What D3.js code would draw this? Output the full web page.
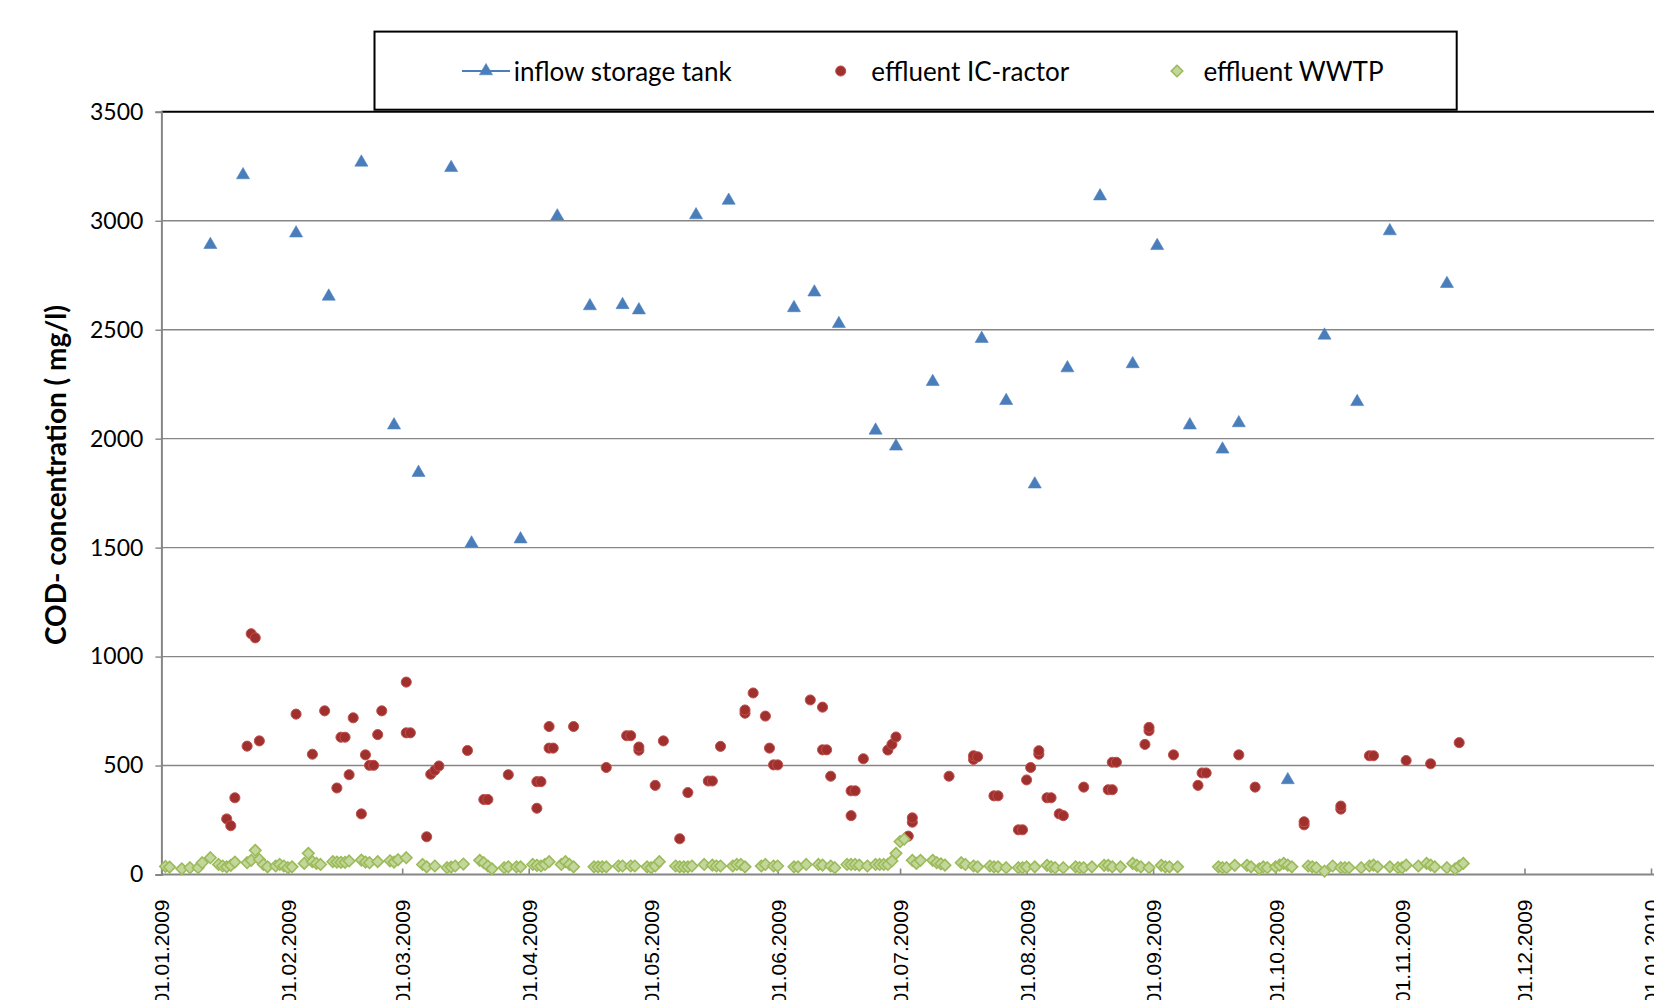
<!DOCTYPE html>
<html>
<head>
<meta charset="utf-8">
<script src="https://cdn.jsdelivr.net/npm/d3@7"></script>
<style>
  html, body { margin: 0; padding: 0; background: #fff; }
  svg { display: block; }
</style>
</head>
<body>
<svg id="chart" width="1654" height="1000"></svg>
<script>
// ---------------- DATA ----------------
const seriesNames = ["inflow storage tank", "effluent IC-ractor", "effluent WWTP"];

const inflowDates = ["2009-01-13","2009-01-21","2009-02-03","2009-02-11","2009-02-19","2009-02-27","2009-03-05","2009-03-13","2009-03-18","2009-03-30",
  "2009-04-08","2009-04-16","2009-04-24","2009-04-28","2009-05-12","2009-05-20","2009-06-05","2009-06-10","2009-06-16","2009-06-25",
  "2009-06-30","2009-07-09","2009-07-21","2009-07-27","2009-08-03","2009-08-11","2009-08-19","2009-08-27","2009-09-02","2009-09-10",
  "2009-09-18","2009-09-22","2009-10-04","2009-10-13","2009-10-21","2009-10-29","2009-11-12"];
const inflowValues = [2890,3210,2943,2653,3268,2062,1844,3243,1520,1539,
  3021,2609,2614,2590,3026,3093,2600,2672,2527,2038,
  1965,2261,2459,2174,1791,2324,3113,2343,2885,2062,
  1951,2072,434,2474,2169,2953,2711];

const icDates = ["2009-01-17","2009-01-18","2009-01-19","2009-01-22","2009-01-23","2009-01-24","2009-01-25","2009-02-03","2009-02-07","2009-02-10",
  "2009-02-13","2009-02-14","2009-02-15","2009-02-16","2009-02-17","2009-02-19","2009-02-20","2009-02-21","2009-02-22","2009-02-23",
  "2009-02-24","2009-03-02","2009-03-02","2009-03-03","2009-03-07","2009-03-08","2009-03-09","2009-03-10","2009-03-17","2009-03-21",
  "2009-03-22","2009-03-27","2009-04-03","2009-04-03","2009-04-04","2009-04-06","2009-04-06","2009-04-07","2009-04-12","2009-04-20",
  "2009-04-25","2009-04-26","2009-04-28","2009-04-28","2009-05-02","2009-05-04","2009-05-08","2009-05-10","2009-05-15","2009-05-16",
  "2009-05-18","2009-05-24","2009-05-24","2009-05-26","2009-05-29","2009-05-30","2009-05-31","2009-06-01","2009-06-09","2009-06-12",
  "2009-06-12","2009-06-13","2009-06-14","2009-06-19","2009-06-19","2009-06-20","2009-06-22","2009-06-28","2009-06-29","2009-06-30",
  "2009-07-03","2009-07-04","2009-07-04","2009-07-13","2009-07-19","2009-07-19","2009-07-20","2009-07-24","2009-07-25","2009-07-30",
  "2009-07-31","2009-08-01","2009-08-02","2009-08-04","2009-08-04","2009-08-06","2009-08-07","2009-08-09","2009-08-10","2009-08-15",
  "2009-08-21","2009-08-22","2009-08-22","2009-08-23","2009-08-30","2009-08-31","2009-08-31","2009-09-06","2009-09-12","2009-09-13",
  "2009-09-14","2009-09-22","2009-09-26","2009-10-08","2009-10-08","2009-10-17","2009-10-17","2009-10-24","2009-10-25","2009-11-02",
  "2009-11-08","2009-11-15"];
const icValues = [255,224,352,589,1105,1086,613,736,552,751,
  397,630,630,458,719,278,549,501,501,642,
  751,883,650,650,173,460,478,498,569,344,
  344,458,304,426,426,679,580,580,679,491,
  637,637,570,585,409,613,164,376,429,429,
  588,740,755,833,727,580,503,503,801,768,
  572,572,451,270,384,384,531,571,597,631,
  176,240,260,451,528,545,540,361,361,205,
  205,434,491,552,568,352,352,278,270,401,
  389,389,515,515,597,660,675,549,409,466,
  466,549,401,228,242,300,314,545,545,523,
  508,605];

const wwtpDates = ["2009-01-02","2009-01-03","2009-01-06","2009-01-08","2009-01-10","2009-01-11","2009-01-13","2009-01-15","2009-01-16","2009-01-17",
  "2009-01-18","2009-01-19","2009-01-22","2009-01-23","2009-01-24","2009-01-25","2009-01-26","2009-01-27","2009-01-29","2009-01-30",
  "2009-01-31","2009-02-01","2009-02-02","2009-02-05","2009-02-06","2009-02-07","2009-02-08","2009-02-09","2009-02-12","2009-02-13",
  "2009-02-14","2009-02-15","2009-02-16","2009-02-19","2009-02-20","2009-02-21","2009-02-23","2009-02-26","2009-02-27","2009-02-28",
  "2009-03-02","2009-03-06","2009-03-07","2009-03-09","2009-03-12","2009-03-13","2009-03-14","2009-03-16","2009-03-20","2009-03-21",
  "2009-03-22","2009-03-23","2009-03-26","2009-03-27","2009-03-29","2009-03-30","2009-04-02","2009-04-03","2009-04-04","2009-04-05",
  "2009-04-06","2009-04-09","2009-04-10","2009-04-11","2009-04-12","2009-04-17","2009-04-18","2009-04-19","2009-04-20","2009-04-23",
  "2009-04-24","2009-04-26","2009-04-27","2009-04-30","2009-05-01","2009-05-02","2009-05-03","2009-05-07","2009-05-08","2009-05-09",
  "2009-05-10","2009-05-11","2009-05-14","2009-05-16","2009-05-17","2009-05-18","2009-05-21","2009-05-22","2009-05-23","2009-05-24",
  "2009-05-28","2009-05-29","2009-05-31","2009-06-01","2009-06-05","2009-06-06","2009-06-08","2009-06-11","2009-06-12","2009-06-14",
  "2009-06-15","2009-06-18","2009-06-19","2009-06-20","2009-06-21","2009-06-23","2009-06-25","2009-06-26","2009-06-27","2009-06-28",
  "2009-06-29","2009-06-30","2009-07-01","2009-07-02","2009-07-04","2009-07-05","2009-07-06","2009-07-09","2009-07-10","2009-07-11",
  "2009-07-12","2009-07-16","2009-07-17","2009-07-19","2009-07-20","2009-07-23","2009-07-24","2009-07-25","2009-07-27","2009-07-30",
  "2009-07-31","2009-08-01","2009-08-03","2009-08-06","2009-08-07","2009-08-08","2009-08-10","2009-08-13","2009-08-14","2009-08-15",
  "2009-08-17","2009-08-20","2009-08-21","2009-08-22","2009-08-24","2009-08-27","2009-08-28","2009-08-29","2009-08-31","2009-09-03",
  "2009-09-04","2009-09-05","2009-09-07","2009-09-17","2009-09-18","2009-09-19","2009-09-21","2009-09-24","2009-09-25","2009-09-27",
  "2009-09-28","2009-09-29","2009-10-01","2009-10-02","2009-10-03","2009-10-04","2009-10-05","2009-10-09","2009-10-10","2009-10-11",
  "2009-10-13","2009-10-15","2009-10-17","2009-10-18","2009-10-19","2009-10-22","2009-10-24","2009-10-25","2009-10-26","2009-10-29",
  "2009-10-31","2009-11-01","2009-11-02","2009-11-05","2009-11-07","2009-11-08","2009-11-09","2009-11-12","2009-11-14","2009-11-15",
  "2009-11-16"];
const wwtpValues = [37,34,26,31,31,54,77,46,39,35,
  42,57,54,65,111,69,46,35,39,46,
  39,31,35,51,97,59,51,46,59,57,
  56,56,62,66,57,54,59,63,57,68,
  77,46,35,39,31,34,39,48,65,54,
  39,26,31,35,35,35,46,42,39,46,
  59,46,59,46,35,35,35,35,35,39,
  39,39,39,35,31,39,59,39,35,35,
  35,39,46,43,39,39,39,46,46,35,
  39,46,39,39,35,35,46,46,43,39,
  31,46,46,46,43,39,46,46,46,46,
  62,97,151,162,65,51,65,65,54,49,
  43,54,46,39,35,39,35,35,31,31,
  31,35,35,42,35,31,31,35,31,31,
  35,42,42,35,35,51,42,35,31,42,
  35,35,35,35,31,31,42,42,35,26,
  35,31,35,43,51,43,35,39,35,31,
  15,39,31,31,31,31,39,43,35,35,
  31,31,43,39,51,43,35,31,26,39,
  51];

const yTicks = [0, 500, 1000, 1500, 2000, 2500, 3000, 3500];
const xTickDates = ["2009-01-01","2009-02-01","2009-03-01","2009-04-01","2009-05-01","2009-06-01","2009-07-01",
  "2009-08-01","2009-09-01","2009-10-01","2009-11-01","2009-12-01","2010-01-01"];
const yTitle = "COD- concentration ( mg/l)";

// ---------------- LAYOUT ----------------
const parse = d3.timeParse("%Y-%m-%d");
const fmt = d3.timeFormat("%d.%m.%Y");
const W = 1654, H = 1000;
const plot = { left: 161.4, right: 1651, top: 111.8, bottom: 874.5 };

const svg = d3.select("#chart");

const x = d3.scaleTime()
  .domain([parse("2009-01-01"), parse("2010-01-01")])
  .range([plot.left, plot.right]);
const y = d3.scaleLinear().domain([0, 3500]).range([plot.bottom, plot.top]);

const gridColor = "#868686";

// gridlines
svg.append("g").selectAll("line").data(yTicks.filter(v => v > 0 && v < 3500)).join("line")
  .attr("x1", plot.left).attr("x2", W)
  .attr("y1", d => y(d)).attr("y2", d => y(d))
  .attr("stroke", gridColor).attr("stroke-width", 1.4);

// top border (black)
svg.append("line")
  .attr("x1", plot.left).attr("x2", W)
  .attr("y1", y(3500)).attr("y2", y(3500))
  .attr("stroke", "#000").attr("stroke-width", 2);

// Y axis
const yAxis = d3.axisLeft(y).tickValues(yTicks).tickSize(6).tickPadding(12).tickFormat(d3.format("d"));
const gy = svg.append("g").attr("transform", `translate(${plot.left},0)`).call(yAxis);
gy.select(".domain").attr("stroke", gridColor).attr("stroke-width", 2);
gy.selectAll(".tick line").attr("stroke", gridColor).attr("stroke-width", 1.4);
gy.selectAll(".tick text")
  .attr("fill", "#000")
  .style("font-family", "Lato, 'Open Sans', sans-serif")
  .style("font-size", "23px");

// X axis (ticks pointing inside)
const xAxis = d3.axisBottom(x).tickValues(xTickDates.map(parse)).tickSize(-6).tickSizeOuter(0).tickFormat(fmt);
const gx = svg.append("g").attr("transform", `translate(0,${plot.bottom})`).call(xAxis);
gx.select(".domain").attr("stroke", gridColor).attr("stroke-width", 2.2).attr("d", `M${plot.left},0H${W}`);
gx.selectAll(".tick line").attr("stroke", gridColor).attr("stroke-width", 1.6);
gx.selectAll(".tick text")
  .attr("fill", "#000")
  .style("font-family", "'Liberation Sans', Arial, sans-serif")
  .style("font-size", "21px")
  .attr("text-anchor", "end")
  .attr("dy", null)
  .attr("y", 0)
  .attr("dominant-baseline", "central")
  .attr("transform", "translate(0,25) rotate(-90)");

// Y title
svg.append("text")
  .attr("transform", `translate(55,475) rotate(-90)`)
  .attr("text-anchor", "middle")
  .attr("dominant-baseline", "central")
  .style("font-family", "Lato, 'Open Sans', sans-serif")
  .style("font-weight", "700")
  .style("font-size", "28px")
  .text(yTitle);

// markers
const triPath = d3.symbol().type(d3.symbolTriangle).size(74)();
const circPath = d3.symbol().type(d3.symbolCircle).size(80)();
const diaPath = d3.symbol().type(d3.symbolDiamond2).size(84)();

const styles = [
  { path: triPath, fill: "#4a7ebb", stroke: "#4f81bd", sw: 0.6 },
  { path: circPath, fill: "#a0302d", stroke: "#c0504d", sw: 1 },
  { path: diaPath, fill: "#c3d69b", stroke: "#9bbb59", sw: 1.6 }
];

const series = [
  inflowDates.map((d, i) => ({ date: parse(d), value: inflowValues[i] })),
  icDates.map((d, i) => ({ date: parse(d), value: icValues[i] })),
  wwtpDates.map((d, i) => ({ date: parse(d), value: wwtpValues[i] }))
];

series.forEach((data, si) => {
  const st = styles[si];
  svg.append("g").selectAll("path").data(data).join("path")
    .attr("d", st.path)
    .attr("transform", d => `translate(${x(d.date)},${y(d.value)})`)
    .attr("fill", st.fill).attr("stroke", st.stroke).attr("stroke-width", st.sw);
});

// Legend
const lg = svg.append("g");
lg.append("rect")
  .attr("x", 374.5).attr("y", 31.6).attr("width", 1082.2).attr("height", 78.1)
  .attr("fill", "#fff").attr("stroke", "#000").attr("stroke-width", 2);
const legendY = 71;
const legendItems = [
  { sx: 486, tx: 513.7, line: true },
  { sx: 840.7, tx: 871.3, line: false },
  { sx: 1177, tx: 1203.5, line: false }
];
legendItems.forEach((it, i) => {
  const st = styles[i];
  if (it.line) {
    lg.append("line").attr("x1", it.sx - 24).attr("x2", it.sx + 24)
      .attr("y1", legendY).attr("y2", legendY)
      .attr("stroke", "#4a7ebb").attr("stroke-width", 2);
  }
  lg.append("path").attr("d", st.path)
    .attr("transform", `translate(${it.sx},${legendY})`)
    .attr("fill", st.fill).attr("stroke", st.stroke).attr("stroke-width", st.sw);
  lg.append("text").attr("x", it.tx).attr("y", legendY)
    .attr("dominant-baseline", "central")
    .style("font-family", "Lato, 'Open Sans', sans-serif")
    .style("font-size", "26px")
    .attr("fill", "#000")
    .text(seriesNames[i]);
});
</script>
</body>
</html>
